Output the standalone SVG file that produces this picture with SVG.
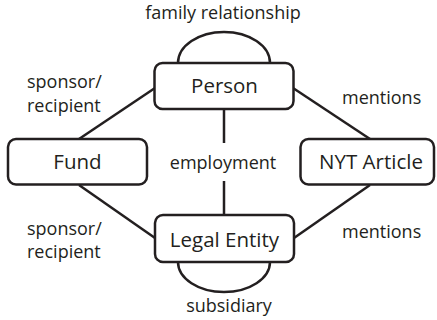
<svg xmlns="http://www.w3.org/2000/svg" width="437" height="320" viewBox="0 0 437 320">
<style>
.box{fill:#fff;stroke:#231f20;stroke-width:2.5}
.edge{fill:none;stroke:#231f20;stroke-width:2.5}
.nt{font-family:"Open Sans","Noto Sans",sans-serif;font-size:20.5px;fill:#231f20;text-anchor:middle}
.lt{font-family:"Open Sans","Noto Sans",sans-serif;font-size:18px;fill:#231f20}
.c{text-anchor:middle}
</style>
<rect width="437" height="320" fill="#fff"/>
<g id="connectors">
<line class="edge" x1="155" y1="88" x2="79" y2="139"/>
<line class="edge" x1="293" y1="88" x2="370" y2="139"/>
<line class="edge" x1="79" y1="185" x2="155" y2="238"/>
<line class="edge" x1="370" y1="185" x2="294" y2="238"/>
<line class="edge" x1="224" y1="109" x2="224" y2="143"/>
<line class="edge" x1="224" y1="181" x2="224" y2="215"/>
<path class="edge" d="M178,63 A46,31 0 0 1 270,63"/>
<path class="edge" d="M178,262 A46,30 0 0 0 270,262"/>
<text class="lt c" x="223" y="18.5">family relationship</text>
<text class="lt c" x="229" y="312">subsidiary</text>
<text class="lt c" x="223" y="169">employment</text>
<text class="lt" x="27" y="88">sponsor/</text>
<text class="lt" x="27" y="112">recipient</text>
<text class="lt" x="27" y="235">sponsor/</text>
<text class="lt" x="27" y="258">recipient</text>
<text class="lt" x="342" y="104">mentions</text>
<text class="lt" x="342" y="238">mentions</text>
</g>
<g id="person">
<rect class="box" x="154.5" y="63" width="139" height="46" rx="8"/>
<text class="nt" x="224.5" y="93">Person</text>
</g>
<g id="fund">
<rect class="box" x="8" y="139" width="139" height="45.5" rx="8"/>
<text class="nt" x="77.5" y="169">Fund</text>
</g>
<g id="nyt-article">
<rect class="box" x="300.5" y="139" width="133.5" height="45.5" rx="8"/>
<text class="nt" x="371" y="169">NYT Article</text>
</g>
<g id="legal-entity">
<rect class="box" x="155" y="215" width="139" height="47" rx="8"/>
<text class="nt" x="224.5" y="247">Legal Entity</text>
</g>
</svg>
